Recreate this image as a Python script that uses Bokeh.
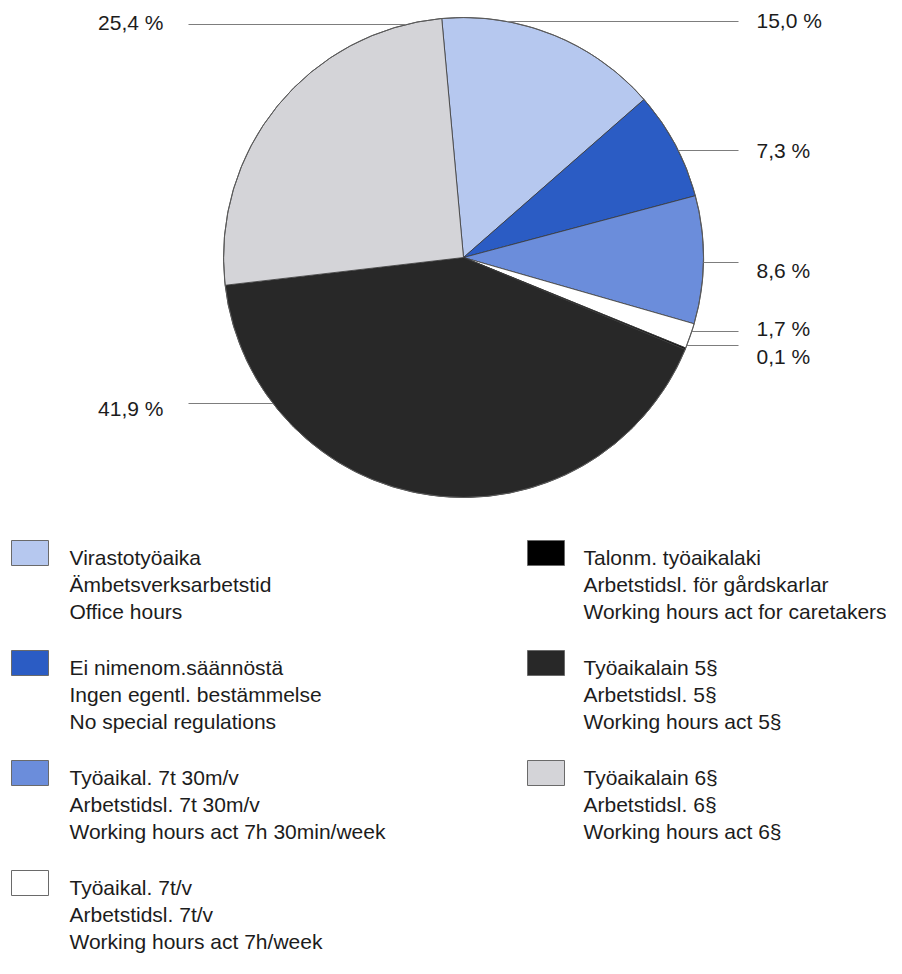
from bokeh.plotting import figure
from bokeh.models import Range1d, ColumnDataSource
from bokeh.core.properties import value
from bokeh.embed import file_html
from bokeh.resources import INLINE
import math

# ---------------- data ----------------
names_fi = ["Virastotyöaika", "Ei nimenom.säännöstä", "Työaikal. 7t 30m/v",
            "Työaikal. 7t/v", "Talonm. työaikalaki", "Työaikalain 5§", "Työaikalain 6§"]
names_sv = ["Ämbetsverksarbetstid", "Ingen egentl. bestämmelse", "Arbetstidsl. 7t 30m/v",
            "Arbetstidsl. 7t/v", "Arbetstidsl. för gårdskarlar", "Arbetstidsl. 5§", "Arbetstidsl. 6§"]
names_en = ["Office hours", "No special regulations", "Working hours act 7h 30min/week",
            "Working hours act 7h/week", "Working hours act for caretakers",
            "Working hours act 5§", "Working hours act 6§"]
shares = [15.0, 7.3, 8.6, 1.7, 0.1, 41.9, 25.4]
colors = ["#b6c8ef", "#2b5cc4", "#6b8ddb", "#ffffff", "#000000", "#282828", "#d4d4d8"]

# ---------------- layout ----------------
W, H = 886, 958
FONT = "Liberation Sans"
FS_LAB = "21px"
FS_LEG = "21px"


def py(y):
    return H - y


CX, CY, R = 463, 257, 240
START_DEG = -5.2     # clockwise from 12 o'clock

# label layout per slice: (side, line_y, text_y)
label_layout = [("r", 21, 20), ("r", 150, 150), ("r", 262, 270), ("r", 331, 328),
                ("r", 345, 356), ("l", 403, 408), ("l", 24, 22)]
RIGHT_LINE_END, RIGHT_TEXT_X = 738, 756
LEFT_LINE_START, LEFT_TEXT_X = 188, 163

# legend layout: column per slice and row index
legend_col = [0, 0, 0, 0, 1, 1, 1]
legend_row = [0, 1, 2, 3, 0, 1, 2]
COL_SW_X = [11, 527]
COL_TX_X = [69, 583]
SW_W, SW_H = 37, 25
GROUP_Y0, GROUP_STEP = 557, 110
LINE_STEP = 27

p = figure(width=W, height=H, output_backend="svg", toolbar_location=None,
           x_range=Range1d(0, W), y_range=Range1d(0, H), min_border=0)
p.axis.visible = False
p.grid.visible = False
p.outline_line_color = None
p.background_fill_color = "white"
p.border_fill_color = "white"

# ---------------- pie ----------------
total = sum(shares)
starts, ends = [], []
acc = START_DEG
for s in shares:
    a = acc
    b = acc + 360.0 * s / total
    starts.append(math.radians(90 - b))
    ends.append(math.radians(90 - a))
    acc = b

src = ColumnDataSource(dict(x=[CX] * len(shares), y=[py(CY)] * len(shares),
                            start=starts, end=ends, color=colors))
p.wedge(x="x", y="y", radius=R, start_angle="start", end_angle="end",
        direction="anticlock", fill_color="color", line_color="#3a3a3a",
        line_width=0.8, source=src)
p.circle(x=[CX], y=[py(CY)], radius=R, fill_color=None, line_color="#5a5a5a",
         line_width=1)

# ---------------- leader lines and labels ----------------
xs0, xs1, ys = [], [], []
tx_r, ty_r, tt_r = [], [], []
tx_l, ty_l, tt_l = [], [], []
for s, (side, ly, tyy) in zip(shares, label_layout):
    dx = math.sqrt(max(R * R - (CY - ly) ** 2, 0))
    lab = f"{s:.1f} %".replace(".", ",")
    if side == "r":
        xs0.append(CX + dx); xs1.append(RIGHT_LINE_END)
        tx_r.append(RIGHT_TEXT_X); ty_r.append(py(tyy)); tt_r.append(lab)
    else:
        xs0.append(LEFT_LINE_START); xs1.append(CX - dx)
        tx_l.append(LEFT_TEXT_X); ty_l.append(py(tyy)); tt_l.append(lab)
    ys.append(py(ly))

p.segment(x0=xs0, y0=ys, x1=xs1, y1=ys, line_color="#7d7d7d", line_width=1.2)
p.text(x=tx_r, y=ty_r, text=tt_r, text_font=value(FONT), text_font_size=FS_LAB,
       text_color="#1c1c1c", text_baseline="alphabetic", text_align="left")
p.text(x=tx_l, y=ty_l, text=tt_l, text_font=value(FONT), text_font_size=FS_LAB,
       text_color="#1c1c1c", text_baseline="alphabetic", text_align="right")

# ---------------- legend ----------------
ql, qr, qt, qb = [], [], [], []
lx, ly_, lt = [], [], []
for i in range(len(shares)):
    c, r = legend_col[i], legend_row[i]
    gy = GROUP_Y0 + GROUP_STEP * r
    top = gy - 17
    ql.append(COL_SW_X[c]); qr.append(COL_SW_X[c] + SW_W)
    qt.append(py(top)); qb.append(py(top + SW_H))
    for k, t in enumerate([names_fi[i], names_sv[i], names_en[i]]):
        lx.append(COL_TX_X[c])
        ly_.append(py(gy + LINE_STEP * k))
        lt.append(t)

p.quad(left=ql, right=qr, top=qt, bottom=qb, fill_color=colors,
       line_color="#6a6a6a", line_width=1)
p.text(x=lx, y=ly_, text=lt, text_font=value(FONT), text_font_size=FS_LEG,
       text_color="#1c1c1c", text_baseline="alphabetic", text_align="left")

open("out.html", "w").write(file_html(p, INLINE))
